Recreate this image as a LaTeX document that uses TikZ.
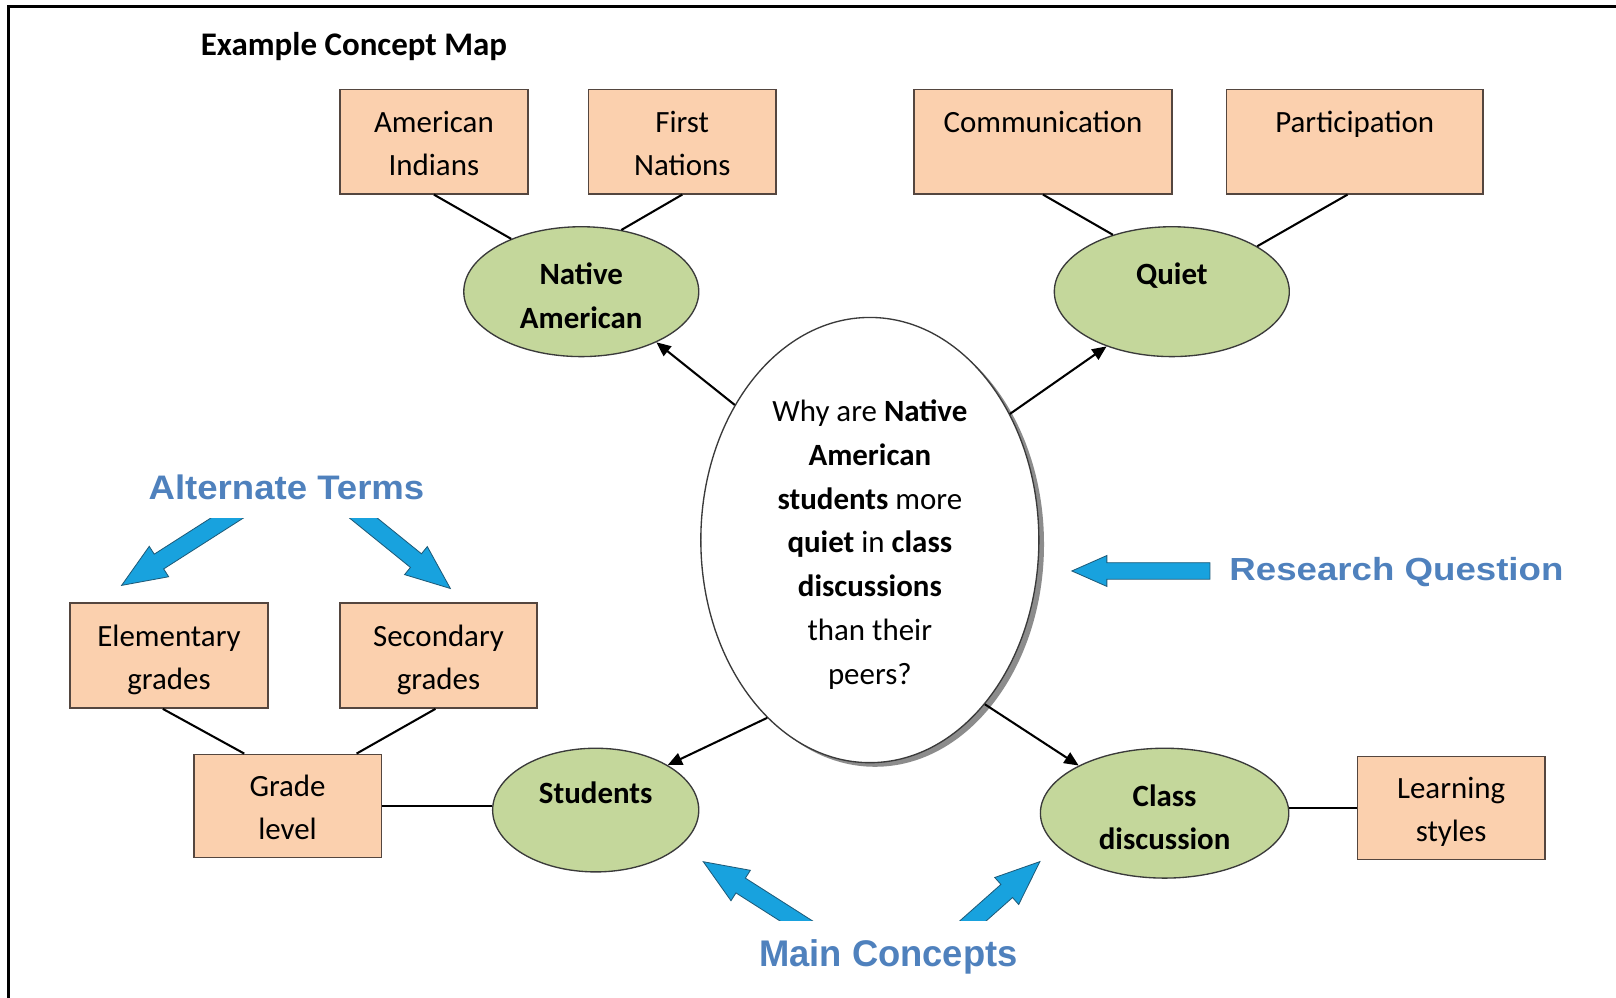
\documentclass[tikz,border=0pt]{standalone}
\usepackage{fontspec}
\usepackage{graphicx}
\setmainfont{Carlito}
\newfontfamily\labelfont{Liberation Sans}
\usetikzlibrary{shapes.geometric,arrows.meta,calc,shadows}
\definecolor{peach}{HTML}{FBD0AE}
\definecolor{boxedge}{HTML}{54463F}
\definecolor{ellgreen}{HTML}{C4D79B}
\definecolor{elledge}{HTML}{3A3A3A}
\definecolor{arrowblue}{HTML}{18A2DE}
\definecolor{arrowedge}{HTML}{1E5A78}
\definecolor{labelblue}{HTML}{4F81BD}
\newcommand\bt{\rule{0pt}{36.4pt}}
\newcommand\eb{\rule[-0.6pt]{0pt}{0.6pt}}
\newcommand\qt{\rule{0pt}{37.3pt}}
\newcommand\bluearrow[5]{%
  \coordinate (ba-B) at ($(#2)!#5!(#1)$);
  \draw[barrow] ($(#1)!#3!90:(#2)$) -- ($(ba-B)!#3!-90:(#1)$) -- ($(ba-B)!#4!-90:(#1)$)
    -- (#2) -- ($(ba-B)!#4!90:(#1)$) -- ($(ba-B)!#3!90:(#1)$) -- ($(#1)!#3!-90:(#2)$) -- cycle;
}
\tikzset{
  cbox/.style={draw=boxedge, fill=peach, line width=1.6pt, align=center, inner sep=0pt,
    font=\fontsize{30}{42}\selectfont},
  cell/.style={ellipse, draw=elledge, fill=ellgreen, line width=1.3pt, align=center, inner sep=0pt,
    font=\bfseries\fontsize{30}{42}\selectfont},
  conn/.style={line width=2pt, draw=black},
  arr/.style={conn, -{Triangle[length=14pt,width=12pt]}},
  barrow/.style={fill=arrowblue, draw=arrowedge, line width=0.8pt, line join=miter},
  blabel/.style={text=labelblue, inner sep=0pt, font=\labelfont\bfseries},
}
\begin{document}
\begin{tikzpicture}[x=1pt,y=-1pt]
\useasboundingbox (0,0) rectangle (1568,967.4);
\fill[white] (0,0) rectangle (1568,967.4);
% frame
\draw[line width=2.8pt] (1570,6.5) -- (8.5,6.5) -- (8.5,970);
% title
\node[font=\bfseries\fontsize{32}{38}\selectfont, inner sep=0pt] (title) at (343.5,45) {Example Concept Map};
% boxes
\node[cbox, minimum width=182pt, minimum height=101pt] (ai) at (421,137.5) {\bt American\\Indians\strut};
\node[cbox, minimum width=182pt, minimum height=101pt] (fn) at (662,137.5) {\bt First\\Nations\strut};
\node[cbox, minimum width=250pt, minimum height=101pt] (com) at (1012,137.5) {\bt Communication\\\strut};
\node[cbox, minimum width=249pt, minimum height=101pt] (par) at (1314.5,137.5) {\bt Participation\\\strut};
\node[cbox, minimum width=192pt, minimum height=102pt] (el) at (164,636) {\bt Elementary\\grades\strut};
\node[cbox, minimum width=191pt, minimum height=102pt] (se) at (425.5,636) {\bt Secondary\\grades\strut};
\node[cbox, minimum width=182pt, minimum height=100pt] (gl) at (279,782) {\bt Grade\\level\strut};
\node[cbox, minimum width=182pt, minimum height=100pt] (ls) at (1408,784) {\bt Learning\\styles\strut};
% ellipses
\node[cell, minimum width=228pt, minimum height=126pt] (na) at (564,283) {\strut Native\\American\eb};
\node[cell, minimum width=228pt, minimum height=126pt] (qu) at (1137,283) {\strut Quiet\\\eb};
\node[cell, minimum width=200pt, minimum height=120pt] (st) at (578,786) {\strut Students\\\eb};
\node[cell, minimum width=241pt, minimum height=126pt] (cd) at (1130,789) {\strut Class\\discussion\eb};
% central question
\node[ellipse, draw=elledge, fill=white, line width=1.3pt, inner sep=0pt, align=center,
  minimum width=328pt, minimum height=432pt,
  drop shadow={shadow xshift=5pt, shadow yshift=-4pt, fill=black!45, opacity=1},
  font=\fontsize{30}{42.6}\selectfont] (cq) at (844,524)
  {\strut Why are \textbf{Native}\\\textbf{American}\\\textbf{students} more\\\textbf{quiet} in \textbf{class}\\\textbf{discussions}\\than their\\peers?};
% connectors
\draw[conn] (ai.south) -- (na.143);
\draw[conn] (fn.south) -- (na.57);
\draw[conn] (com.south) -- (qu.136);
\draw[conn] ([xshift=-7pt]par.south) -- (qu.28);
\draw[conn] ([xshift=-6pt]el.south) -- ([xshift=-42pt]gl.north);
\draw[conn] ([xshift=-3pt]se.south) -- ([xshift=67pt]gl.north);
\draw[conn] (gl.east) -- (gl.east -| st.west);
\draw[conn] (cd.east |- ls.west) -- (ls.west);
% arrows from the question
\draw[arr] (cq.135) -- (na.-34);
\draw[arr] (cq.42) -- (qu.-140);
\draw[arr] (cq.-120) -- (st.32);
\draw[arr] (cq.-55) -- (cd.151);
% blue labels
\node[blabel, font=\labelfont\bfseries\fontsize{33}{38}\selectfont] (alt) at (278,473) {\scalebox{1.075}[1]{Alternate Terms}};
\node[blabel, font=\labelfont\bfseries\fontsize{31}{36}\selectfont] (rq) at (1355,555) {\scalebox{1.147}[1]{Research Question}};
\node[blabel, font=\labelfont\bfseries\fontsize{36}{40}\selectfont] (mc) at (862,928) {\scalebox{0.98}[1]{Main Concepts}};
% blue block arrows
\coordinate (at1t) at (237,492); \coordinate (at1h) at (118,568);
\coordinate (at2t) at (337,490); \coordinate (at2h) at (437,571);
\coordinate (mc1t) at (789,904); \coordinate (mc1h) at (682.4,836.1);
\coordinate (mc2t) at (930,906); \coordinate (mc2h) at (1009,836);
\coordinate (rqt) at (1174,554); \coordinate (rqh) at (1040,554);
\begin{scope}
  \clip (0,503) rectangle (600,700);
  \bluearrow{at1t}{at1h}{8.5pt}{17.5pt}{43pt}
  \bluearrow{at2t}{at2h}{8.5pt}{17.5pt}{43pt}
\end{scope}
\begin{scope}
  \clip (600,800) rectangle (1100,893);
  \bluearrow{mc1t}{mc1h}{8.5pt}{17.5pt}{43pt}
  \bluearrow{mc2t}{mc2h}{8.5pt}{17.5pt}{43pt}
\end{scope}
\bluearrow{rqt}{rqh}{8pt}{15pt}{34pt}
\end{tikzpicture}
\end{document}
